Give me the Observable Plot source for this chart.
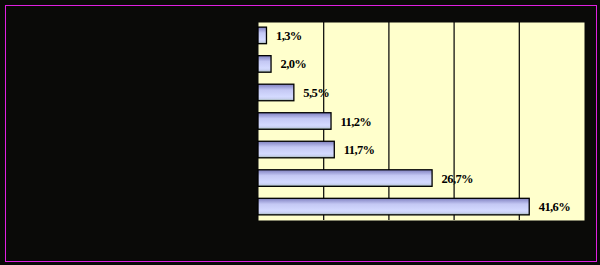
<!DOCTYPE html>
<html>
<head>
<meta charset="utf-8">
<script src="https://cdn.jsdelivr.net/npm/d3@7"></script>
<script src="https://cdn.jsdelivr.net/npm/@observablehq/plot@0.6"></script>
<style>
  html, body { margin: 0; padding: 0; background: #0a0a08; }
  #wrap { position: relative; width: 600px; height: 265px; overflow: hidden; }
  #border { position: absolute; left: 5px; top: 5px; width: 590px; height: 255px; border: 1px solid #e020e0; pointer-events: none; }
  #chart text { letter-spacing: -0.6px; }
</style>
</head>
<body>
<div id="wrap"><div id="chart"></div><div id="border"></div></div>
<script>
const categories = ["1", "2", "3", "4", "5", "6", "7"];
const values = [1.3, 2.0, 5.5, 11.2, 11.7, 26.7, 41.6];
const labels = ["1,3%", "2,0%", "5,5%", "11,2%", "11,7%", "26,7%", "41,6%"];
const gridTicks = [10, 20, 30, 40];

const data = categories.map((c, i) => ({cat: c, value: values[i], label: labels[i]}));

const chart = Plot.plot({
  width: 600,
  height: 265,
  marginLeft: 258,
  marginRight: 16,
  marginTop: 22,
  marginBottom: 45,
  style: {background: "#0a0a08", overflow: "visible"},
  x: {domain: [0, 50], axis: null},
  y: {domain: categories, axis: null, paddingInner: 0.42, paddingOuter: 0.18, round: false},
  marks: [
    Plot.frame({fill: "#ffffcc", stroke: null}),
    Plot.ruleX(gridTicks, {stroke: "#000", strokeWidth: 1.2}),
    Plot.barX(data, {x: "value", y: "cat", fill: "url(#barGrad)", stroke: "#000", strokeWidth: 1.3}),
    Plot.text(data, {x: "value", y: "cat", text: "label", textAnchor: "start", dx: 9,
      fill: "#000", fontFamily: "'Liberation Serif', 'Times New Roman', serif", fontWeight: "bold", fontSize: 12.5})
  ]
});

const ns = "http://www.w3.org/2000/svg";
const defs = document.createElementNS(ns, "defs");
defs.innerHTML = `<linearGradient id="barGrad" x1="0" y1="0" x2="0" y2="1">
  <stop offset="0" stop-color="#7f80c0"/>
  <stop offset="0.35" stop-color="#c4c8f4"/>
  <stop offset="0.75" stop-color="#d4daff"/>
  <stop offset="0.88" stop-color="#c8d0f0"/>
  <stop offset="1" stop-color="#98b0a0"/>
</linearGradient>`;
chart.insertBefore(defs, chart.firstChild);
document.getElementById("chart").appendChild(chart);
</script>
</body>
</html>
